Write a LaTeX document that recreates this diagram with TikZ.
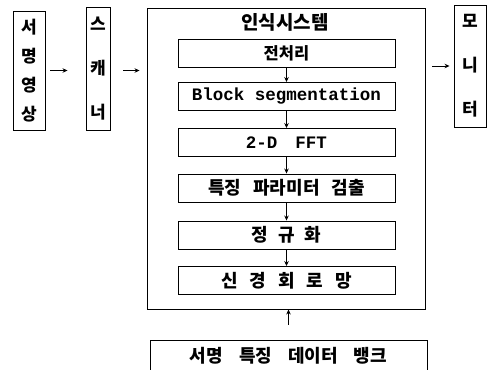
\documentclass[tikz,border=0pt]{standalone}
\usepackage{fontspec}
\newfontfamily\kr{Noto Sans CJK KR}
\newfontfamily\mono{Liberation Mono}
\usetikzlibrary{arrows.meta}
\begin{document}
\begin{tikzpicture}[x=1pt,y=-1pt,line width=0.9pt,
  box/.style={draw,inner sep=0pt},
  arr/.style={-{Stealth[length=5pt,width=4.5pt]}},
  krt/.style={font=\kr\bfseries\fontsize{18}{18}\selectfont},
  mono/.style={font=\mono\bfseries\fontsize{17.5}{17.5}\selectfont},
  vert/.style={box,align=center,font=\kr\bfseries\fontsize{17}{#1}\selectfont},
  stage/.style={box,minimum width=217,minimum height=28}]
\useasboundingbox (0,0) rectangle (491,370);
% left chain
\node[vert=29,minimum width=32,minimum height=119] (img) at (29,70.5) {서\\명\\영\\상};
\node[vert=44,minimum width=24,minimum height=123] (scan) at (98,68.5) {스\\캐\\너};
\node[vert=44,minimum width=32,minimum height=122] (mon) at (470,66) {모\\니\\터};
% system box
\node[box,minimum width=278,minimum height=301] (sys) at (286,158.5) {};
\node[font=\kr\bfseries\fontsize{19}{19}\selectfont] (title) at (285,22) {인식시스템};
\node[stage,font=\kr\bfseries\fontsize{16.5}{16.5}\selectfont] (p1) at (286.5,53.5) {전처리};
\node[stage,mono] (p2) at (286.5,96.5) {Block segmentation};
\node[stage,mono] (p3) at (286.5,142.5) {2-D\hspace{18pt}FFT\hspace{16pt}};
\node[stage,krt] (p4) at (286.5,188) {특징\hspace{12pt}파라미터\hspace{12pt}검출};
\node[stage,krt] (p5) at (286.5,235) {정\hspace{10pt}규\hspace{10pt}화};
\node[stage,krt] (p6) at (286.5,280.5) {신\hspace{12pt}경\hspace{12pt}회\hspace{12pt}로\hspace{12pt}망};
\node[box,krt,minimum width=277,minimum height=32] (bank) at (288.5,356) {서명\hspace{16pt}특징\hspace{16pt}데이터\hspace{16pt}뱅크};
% connectors
\draw[arr] ([xshift=5pt]img.east) -- ([xshift=-18pt]scan.west |- img.east);
\draw[arr] ([xshift=13pt]scan.east |- img.east) -- ([xshift=-7pt]sys.west |- img.east);
\draw[arr] ([xshift=7pt]sys.east |- mon.east) -- ([xshift=-4pt]mon.east -| mon.west);
\draw[arr] (p1) -- (p2);
\draw[arr] (p2) -- (p3);
\draw[arr] (p3) -- (p4);
\draw[arr] (p4) -- (p5);
\draw[arr] (p5) -- (p6);
\draw[arr,shorten <=15pt] (bank.north) -- (bank.north |- sys.south);
\end{tikzpicture}
\end{document}
